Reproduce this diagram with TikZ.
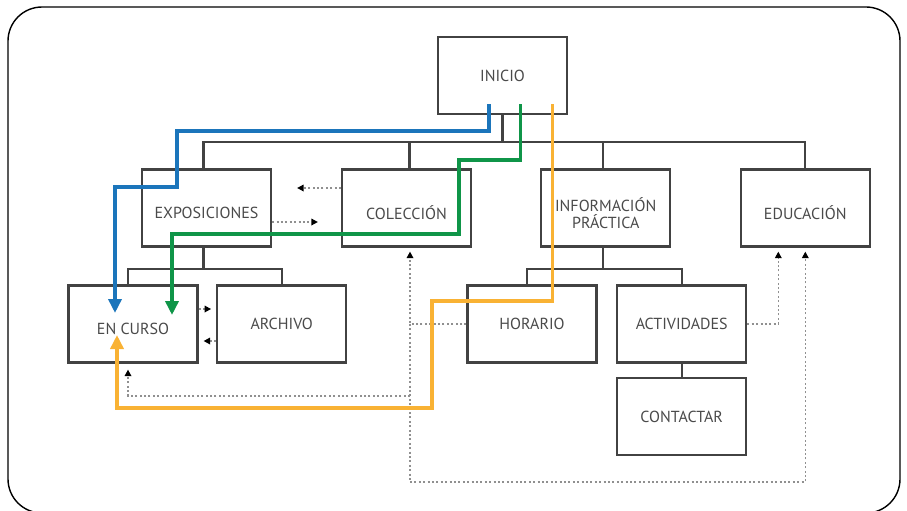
\documentclass[tikz,border=0pt]{standalone}
\usepackage{fontspec}
\setmainfont{PT Sans}
\usetikzlibrary{arrows.meta,calc}
\definecolor{boxline}{HTML}{424242}
\definecolor{txtgray}{HTML}{4A4A4A}
\definecolor{dotgray}{HTML}{909090}
\definecolor{pblue}{HTML}{1B75BB}
\definecolor{pgreen}{HTML}{0F9548}
\definecolor{porange}{HTML}{F9B234}
\newcommand\lowtxt[1]{\raisebox{-5pt}[\height][\depth]{#1}}
\tikzset{
  pagebox/.style={draw=boxline, line width=2.2pt, minimum width=129pt, minimum height=77pt,
    inner sep=0pt, align=center, text=txtgray, font=\fontsize{16}{16.7}\selectfont},
  conn/.style={draw=boxline, line width=2.2pt},
  dotl/.style={draw=dotgray, line width=1.6pt, dash pattern=on 2pt off 2.4pt},
  dota/.style={dotl, -{Triangle[width=6.5pt,length=6.5pt,color=black]}},
  route/.style={line width=3.5pt, -{Triangle[width=13pt,length=14pt]}},
}
\begin{document}
\begin{tikzpicture}[x=1pt,y=-1pt]
\useasboundingbox (0,0) rectangle (907,511);
\begin{scope}
\clip (0,0) rectangle (907,511);
\draw[line width=1.4pt, rounded corners=34pt] (8,7) rectangle (900,513);
\end{scope}

% pages
\node[pagebox] (inicio) at (502.5,75.5) {INICIO};
\node[pagebox] (expo) at (206.5,208) {\lowtxt{EXPOSICIONES}};
\node[pagebox] (col) at (406.5,208) {\lowtxt{COLECCIÓN}};
\node[pagebox] (info) at (605.7,208) {\lowtxt{INFORMACIÓN}\\\lowtxt{PRÁCTICA}};
\node[pagebox] (edu) at (805.3,208) {\lowtxt{EDUCACIÓN}};
\node[pagebox] (encurso) at (133,324) {\lowtxt{EN CURSO}};
\node[pagebox] (archivo) at (281.7,324) {ARCHIVO};
\node[pagebox] (horario) at (532,324) {HORARIO};
\node[pagebox] (activ) at (681.7,324) {ACTIVIDADES};
\node[pagebox] (contactar) at (681.7,416.5) {CONTACTAR};

% tree connectors
\draw[conn] (inicio.south) -- (inicio.south |- 0,142);
\draw[conn] ([xshift=-3pt]expo.north) |- (edu.north |- 0,142) -- (edu.north);
\draw[conn] ([xshift=3pt]col.north) -- ([xshift=3pt]col.north |- 0,142);
\draw[conn] ([xshift=-3pt]info.north) -- ([xshift=-3pt]info.north |- 0,142);
\draw[conn] ([xshift=-3pt]expo.south) -- ([xshift=-3pt]expo.south |- 0,269);
\draw[conn] ([xshift=-5pt]encurso.north) |- (archivo.north |- 0,269) -- (archivo.north);
\draw[conn] ([xshift=-3pt]info.south) -- ([xshift=-3pt]info.south |- 0,269);
\draw[conn] ([xshift=-5pt]horario.north) |- (activ.north |- 0,269) -- (activ.north);
\draw[conn] (activ.south) -- (contactar.north);

% dotted links
\draw[dota, shorten >=25pt] (col.west |- 0,188) -- (expo.east |- 0,188);
\draw[dota, shorten >=23pt] (expo.east |- 0,222) -- (col.west |- 0,222);
\draw[dota, shorten >=5pt] (encurso.east |- 0,309) -- (archivo.west |- 0,309);
\draw[dota, shorten >=5pt] (archivo.west |- 0,341) -- (encurso.east |- 0,341);
\draw[dota, shorten >=4pt] (horario.west) -| ([xshift=3.5pt]col.south);
\coordinate (vb) at ([xshift=3.5pt]col.south |- 0,482);
\draw[dotl] (horario.west -| vb) -- (vb);
\draw[dota, shorten >=4pt] (vb) -| (edu.south);
\draw[dota, shorten >=6pt] (vb |- 0,396) -| ([xshift=-5pt]encurso.south);
\draw[dota, shorten >=4pt] (activ.east) -| ([xshift=-27pt]edu.south);

% coloured routes
\draw[route, pblue] ($(inicio.south)+(-13.5,-11)$) -- ++(0,27) -| (177,187) -| ($(encurso.center)+(-18,-11)$);
\draw[route, pgreen] ($(inicio.south)+(18,-11)$) -- ++(0,56) -| (459,234) -| ($(encurso.center)+(39,-9)$);
\draw[route, porange] ($(inicio.south)+(50,-11)$) -- ++(0,197) -| (432,408) -| ($(encurso.center)+(-16,11)$);
\end{tikzpicture}
\end{document}
